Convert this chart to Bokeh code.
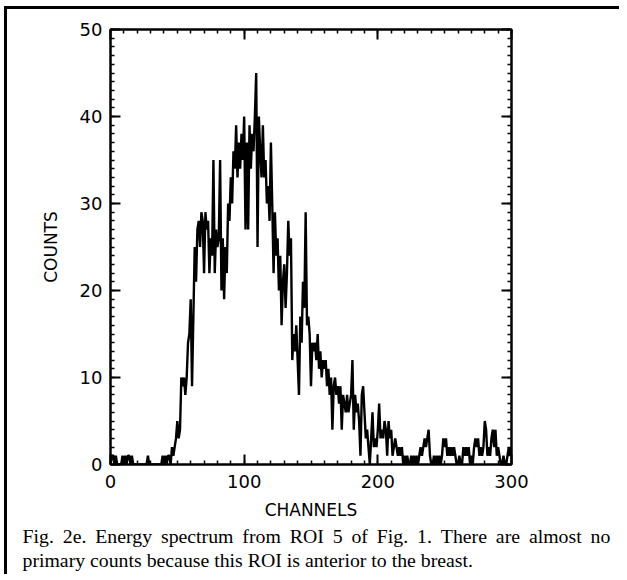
from bokeh.plotting import figure
from bokeh.models import LinearAxis, Title, SingleIntervalTicker, CustomJSTickFormatter, Range1d
from bokeh.embed import file_html
from bokeh.resources import INLINE

# ---- data ----
channels = list(range(0, 301))
counts = [
    0, 1, 1, 0, 1, 0, 0, 0, 0, 1,
    0, 1, 0, 1, 1, 0, 1, 0, 0, 0,
    0, 0, 0, 0, 0, 0, 0, 0, 1, 0,
    0, 0, 0, 0, 0, 0, 0, 0, 0, 1,
    0, 1, 0, 1, 1, 0, 2, 1, 2, 3,
    5, 3, 4, 10, 9, 10, 8, 10, 14, 15,
    19, 9, 17, 25, 21, 27, 28, 25, 29, 28,
    22, 29, 27, 28, 22, 26, 24, 35, 22, 27,
    25, 26, 35, 20, 26, 19, 25, 22, 30, 28,
    33, 30, 36, 34, 39, 33, 37, 34, 38, 35,
    40, 27, 37, 27, 39, 34, 38, 36, 40, 45,
    25, 40, 36, 33, 39, 33, 35, 30, 32, 28,
    37, 30, 22, 29, 24, 26, 20, 24, 16, 21,
    23, 18, 22, 28, 24, 26, 12, 15, 13, 16,
    12, 8, 17, 14, 21, 18, 29, 16, 17, 15,
    9, 14, 13, 14, 12, 15, 11, 13, 10, 12,
    11, 12, 9, 11, 8, 10, 4, 9, 10, 8,
    9, 7, 9, 4, 8, 7, 6, 8, 6, 7,
    8, 12, 4, 8, 6, 7, 5, 1, 8, 9,
    6, 3, 4, 2, 0, 3, 6, 2, 3, 2,
    4, 7, 3, 4, 3, 5, 4, 1, 5, 3,
    4, 1, 2, 3, 2, 1, 2, 1, 2, 0,
    1, 0, 1, 0, 0, 1, 0, 1, 0, 1,
    0, 1, 2, 1, 2, 3, 2, 3, 4, 1,
    0, 0, 1, 0, 1, 0, 1, 0, 1, 3,
    2, 3, 1, 2, 1, 2, 1, 2, 1, 0,
    0, 1, 0, 0, 2, 1, 2, 1, 2, 0,
    1, 0, 2, 3, 2, 3, 1, 2, 1, 2,
    5, 4, 1, 2, 1, 3, 4, 2, 4, 1,
    2, 1, 0, 0, 1, 0, 0, 1, 2, 1, 2,
]
x_label = "CHANNELS"
y_label = "COUNTS"
caption_line1 = "Fig. 2e. Energy spectrum from ROI 5 of Fig. 1. There are almost no"
caption_line2 = "primary counts because this ROI is anterior to the breast."

W, H = 615, 568
p = figure(width=W, height=H, x_range=Range1d(0, 300), y_range=Range1d(0, 50),
           output_backend="svg", toolbar_location=None,
           min_border_left=103, min_border_right=111, min_border_top=20, min_border_bottom=113)
p.styles = {"border-top": "3px solid black", "border-left": "3px solid black",
            "margin-top": "6px", "margin-left": "4px"}
p.grid.visible = False
p.outline_line_color = "black"
p.outline_line_width = 2
p.background_fill_color = "white"
p.border_fill_color = "white"

p.line(channels, counts, line_color="black", line_width=2.4)

xt = SingleIntervalTicker(interval=100, num_minor_ticks=10)
yt = SingleIntervalTicker(interval=10, num_minor_ticks=10)
blank = CustomJSTickFormatter(code="return ''")

def style_axis(ax, ticker):
    ax.ticker = ticker
    ax.axis_line_color = "black"
    ax.axis_line_width = 2
    ax.major_tick_in = 10
    ax.major_tick_out = 0
    ax.minor_tick_in = 4
    ax.minor_tick_out = 0
    ax.major_tick_line_width = 2
    ax.minor_tick_line_width = 1.5
    ax.major_tick_line_color = "black"
    ax.minor_tick_line_color = "black"
    ax.major_label_text_font = "DejaVu Sans"
    ax.major_label_text_font_size = "18px"
    ax.major_label_text_color = "black"
    ax.axis_label_text_font = "DejaVu Sans"
    ax.axis_label_text_font_size = "17px"
    ax.axis_label_text_font_style = "normal"
    ax.axis_label_text_color = "black"

style_axis(p.xaxis[0], xt)
style_axis(p.yaxis[0], yt)
p.xaxis[0].axis_label = x_label
p.yaxis[0].axis_label = y_label
p.xaxis[0].major_label_standoff = 10
p.xaxis[0].axis_label_standoff = 9
p.yaxis[0].major_label_standoff = 8
p.yaxis[0].axis_label_standoff = 16

top = LinearAxis(formatter=blank)
style_axis(top, SingleIntervalTicker(interval=100, num_minor_ticks=10))
top.major_label_standoff = 0
right = LinearAxis(formatter=blank)
style_axis(right, SingleIntervalTicker(interval=10, num_minor_ticks=10))
right.major_label_standoff = 0
p.add_layout(top, "above")
p.add_layout(right, "right")

# caption: first line justified with thin spaces added between words
line1 = caption_line1.replace(" ", " \u2009")
p.add_layout(Title(text=line1 + "\n" + caption_line2, align="left", offset=-88, standoff=1,
                   text_font="Liberation Serif", text_font_size="19.8px",
                   text_line_height=1.1,
                   text_font_style="normal", text_color="black"), "below")

open("out.html", "w").write(file_html(p, INLINE))
